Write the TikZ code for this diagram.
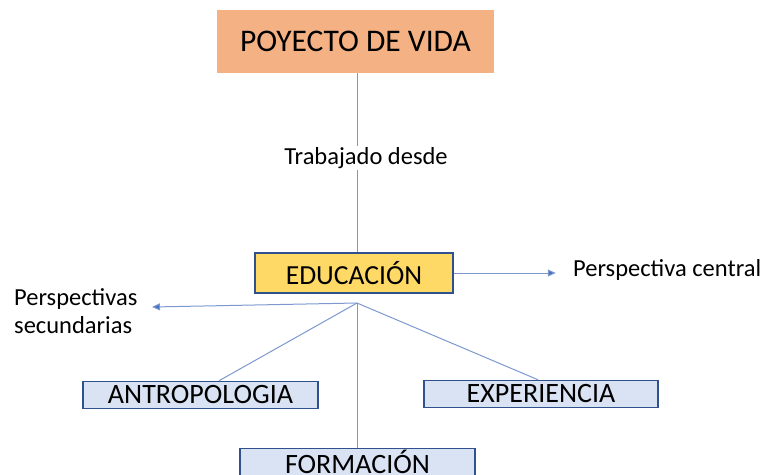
\documentclass[tikz,border=0pt]{standalone}
\usepackage{fontspec}
\setmainfont{Carlito}
\usetikzlibrary{arrows.meta}
\definecolor{salmon}{RGB}{244,177,131}
\definecolor{gold}{RGB}{255,217,102}
\definecolor{paleblue}{RGB}{218,227,243}
\definecolor{boxedge}{RGB}{47,82,143}
\definecolor{linkblue}{RGB}{124,152,206}
\definecolor{tipblue}{RGB}{68,114,196}
\tikzset{
  mainbox/.style={fill=salmon, minimum width=277pt, minimum height=63pt, font=\fontsize{31.5}{36}\selectfont, inner sep=0pt},
  edubox/.style={fill=gold, draw=boxedge, line width=1.5pt, minimum width=198pt, minimum height=40pt, font=\fontsize{27.6}{32}\selectfont, inner sep=0pt},
  subbox/.style={fill=paleblue, draw=boxedge, line width=1.5pt, minimum height=27pt, font=\fontsize{28}{32}\selectfont, inner sep=0pt},
  label/.style={font=\fontsize{24.5}{28}\selectfont, inner sep=1pt},
  link/.style={draw=linkblue, line width=1pt},
  arrowlink/.style={link, -{Triangle[length=8pt,width=7pt,fill=tipblue]}}
}
\begin{document}
\begin{tikzpicture}[x=1pt,y=-1pt]
\useasboundingbox (0,0) rectangle (768,474);
\node[mainbox] (poy) at (355.5,41.5) {POYECTO DE VIDA};
\node[label] (trab) at (366,158) {Trabajado desde};
\node[edubox] (edu) at (354,273) {EDUCACIÓN};
\node[label, anchor=west] (cent) at (572,270) {Perspectiva central};
\node[label, anchor=west, align=left] (sec) at (13,311) {Perspectivas\\secundarias};
\node[subbox, minimum width=235pt] (antro) at (200.5,395) {ANTROPOLOGIA};
\node[subbox, minimum width=235pt] (form) at (357.5,462) {FORMACIÓN};
\node[subbox, minimum width=234pt] (expe) at (541,394) {EXPERIENCIA};
\coordinate (j) at (357,303);
\draw[link] (poy.south -| j) -- (trab.north -| j);
\draw[link] (trab.south -| j) -- (edu.north -| j);
\draw[arrowlink] (edu.east) -- ++(102,0) coordinate (centtip);
\draw[arrowlink] (j) -- (152,307) coordinate (sectip);
\draw[link] (j) -- (antro.north -| 219,0);
\draw[link] (j) -- (form.north -| j);
\draw[link] (j) -- (expe.north -| 538,0);
\end{tikzpicture}
\end{document}
